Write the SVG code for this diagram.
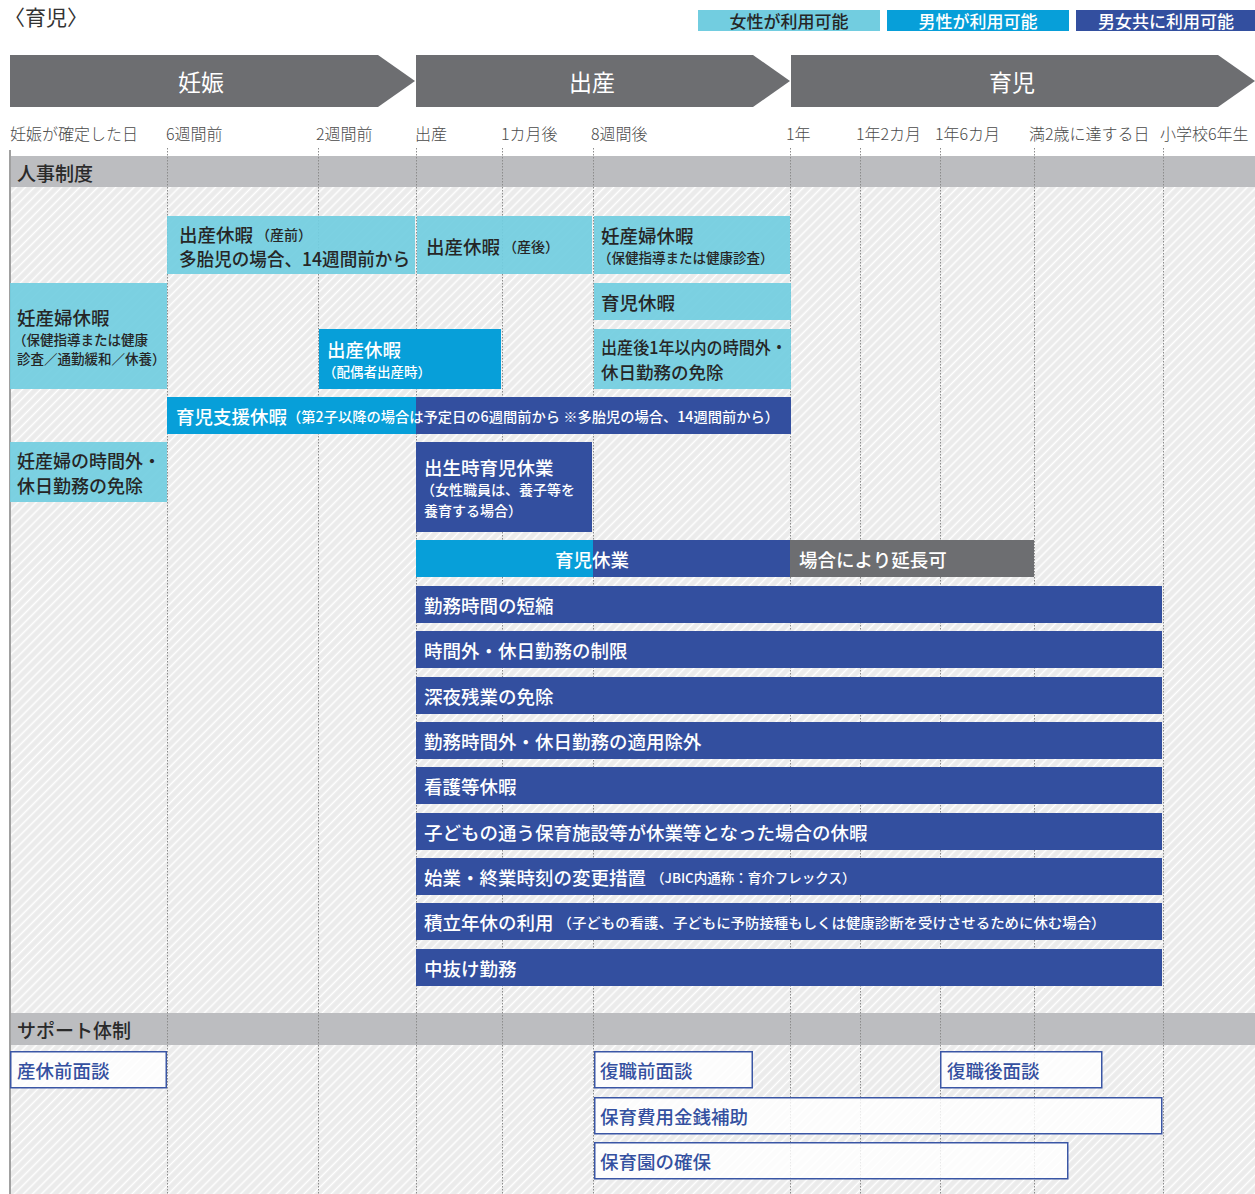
<svg xmlns="http://www.w3.org/2000/svg" width="1255" height="1194" viewBox="0 0 1255 1194">
<defs>
<pattern id="hatch" width="6.4" height="6.4" patternUnits="userSpaceOnUse" patternTransform="rotate(45)">
<rect width="6.4" height="6.4" fill="#ebebeb"/>
<line x1="3.2" y1="0" x2="3.2" y2="6.4" stroke="#ffffff" stroke-width="1.5"/>
</pattern>
<style>
text{font-family:"Noto Sans CJK JP","Noto Sans CJK SC",sans-serif;dominant-baseline:central}
.cy{fill:#72cde0}
.mb{fill:#079fd9}
.db{fill:#334f9f}
.gr{fill:#6d6e71}
.band{fill:#bcbdc0}
.tl{font-size:16px;fill:#4a4a4a;font-weight:300}
.m{font-size:18.5px;font-weight:500}
.s{font-size:14px;font-weight:500}
.dk{fill:#262626}
.wh{fill:#ffffff}
.hd{font-size:19px;font-weight:500;fill:#2a2a2a}
.arw{font-size:23px;fill:#ffffff;font-weight:400}
.lg{font-size:17px;font-weight:500}
.sup{fill:#ffffff;fill-opacity:0.82;stroke:#3a56a5;stroke-width:1.5}
.st{font-size:18.5px;font-weight:500;fill:#3450a0}
.grid line{stroke:#8c8c8c;stroke-width:1;stroke-dasharray:1.5 1.5}
</style>
</defs>

<!-- title -->
<text x="4" y="16" style="font-size:21px;fill:#333;font-weight:400">〈育児〉</text>

<!-- legend -->
<g id="legend">
<rect x="698" y="10" width="182" height="21" class="cy"/>
<text x="789" y="20.5" class="lg dk" text-anchor="middle">女性が利用可能</text>
<rect x="887" y="10" width="182" height="21" class="mb"/>
<text x="978" y="20.5" class="lg wh" text-anchor="middle">男性が利用可能</text>
<rect x="1076" y="10" width="179" height="21" class="db"/>
<text x="1166" y="20.5" class="lg wh" text-anchor="middle">男女共に利用可能</text>
</g>

<!-- phase arrows -->
<g id="phase-ninshin">
<polygon points="10,55 378,55 415,81 378,107 10,107" class="gr"/>
<text x="201" y="81" class="arw" text-anchor="middle">妊娠</text>
</g>
<g id="phase-shussan">
<polygon points="416,55 753,55 790,81 753,107 416,107" class="gr"/>
<text x="592" y="81" class="arw" text-anchor="middle">出産</text>
</g>
<g id="phase-ikuji">
<polygon points="791,55 1218,55 1255,81 1218,107 791,107" class="gr"/>
<text x="1012" y="81" class="arw" text-anchor="middle">育児</text>
</g>

<!-- timeline labels -->
<g id="timeline">
<text x="10" y="133" class="tl">妊娠が確定した日</text>
<text x="166" y="133" class="tl">6週間前</text>
<text x="316" y="133" class="tl">2週間前</text>
<text x="415" y="133" class="tl">出産</text>
<text x="501" y="133" class="tl">1カ月後</text>
<text x="591" y="133" class="tl">8週間後</text>
<text x="786" y="133" class="tl">1年</text>
<text x="856" y="133" class="tl">1年2カ月</text>
<text x="935" y="133" class="tl">1年6カ月</text>
<text x="1029" y="133" class="tl">満2歳に達する日</text>
<text x="1160" y="133" class="tl">小学校6年生</text>
</g>

<!-- backgrounds -->
<rect x="10" y="187" width="1245" height="826" fill="url(#hatch)"/>
<rect x="10" y="1045" width="1245" height="149" fill="url(#hatch)"/>
<g id="band-jinji">
<rect x="10" y="156" width="1245" height="31" class="band"/>
<text x="17" y="172" class="hd">人事制度</text>
</g>
<g id="band-support">
<rect x="10" y="1013" width="1245" height="32" class="band"/>
<text x="17" y="1029" class="hd">サポート体制</text>
</g>

<!-- grid -->
<g id="grid" class="grid">
<line x1="167.5" y1="148" x2="167.5" y2="1194"/>
<line x1="318.5" y1="148" x2="318.5" y2="1194"/>
<line x1="416.5" y1="148" x2="416.5" y2="1194"/>
<line x1="502.5" y1="148" x2="502.5" y2="1194"/>
<line x1="593.5" y1="148" x2="593.5" y2="1194"/>
<line x1="790.5" y1="148" x2="790.5" y2="1194"/>
<line x1="860.5" y1="148" x2="860.5" y2="1194"/>
<line x1="940.5" y1="148" x2="940.5" y2="1194"/>
<line x1="1034.5" y1="148" x2="1034.5" y2="1194"/>
<line x1="1163.5" y1="148" x2="1163.5" y2="1194"/>
</g>
<line x1="10" y1="150" x2="10" y2="1194" stroke="#a0a0a0" stroke-width="2"/>

<!-- 人事制度 nodes -->
<g id="n-sanzen">
<rect x="167" y="216" width="248" height="58" class="cy" fill-opacity="0.93"/>
<text x="179" y="233.5" class="dk"><tspan class="m">出産休暇</tspan><tspan class="s" dx="3">（産前）</tspan></text>
<text x="179" y="257.5" class="m dk" textLength="231" lengthAdjust="spacingAndGlyphs">多胎児の場合、14週間前から</text>
</g>
<g id="n-sango">
<rect x="417" y="216" width="175" height="58" class="cy" fill-opacity="0.93"/>
<text x="426" y="245.5" class="dk"><tspan class="m">出産休暇</tspan><tspan class="s" dx="3">（産後）</tspan></text>
</g>
<g id="n-ninsanpu-r">
<rect x="594" y="216" width="196" height="58" class="cy" fill-opacity="0.93"/>
<text x="601" y="234.5" class="m dk">妊産婦休暇</text>
<text x="598" y="256.5" class="dk" style="font-size:13.5px;font-weight:500">（保健指導または健康診査）</text>
</g>
<g id="n-ninsanpu-l">
<rect x="10" y="283" width="157" height="106" class="cy" fill-opacity="0.93"/>
<text x="17" y="316.5" class="m dk">妊産婦休暇</text>
<text x="13" y="338.5" class="dk" style="font-size:13.5px;font-weight:500">（保健指導または健康</text>
<text x="17" y="357.5" class="dk" style="font-size:13.5px;font-weight:500">診査／通勤緩和／休養）</text>
</g>
<g id="n-ikujikyuka">
<rect x="594" y="283" width="197" height="37" class="cy" fill-opacity="0.93"/>
<text x="601" y="301.5" class="m dk">育児休暇</text>
</g>
<g id="n-haigusha">
<rect x="319" y="329" width="182" height="60" class="mb"/>
<text x="327" y="348.5" class="m wh">出産休暇</text>
<text x="323" y="370.5" class="wh" style="font-size:13.5px;font-weight:500">（配偶者出産時）</text>
</g>
<g id="n-sango1nen">
<rect x="594" y="329" width="197" height="60" class="cy" fill-opacity="0.93"/>
<text x="601" y="346.5" class="dk" style="font-size:17.5px;font-weight:500" textLength="186" lengthAdjust="spacingAndGlyphs">出産後1年以内の時間外・</text>
<text x="601" y="371.5" class="dk" style="font-size:17.5px;font-weight:500">休日勤務の免除</text>
</g>
<g id="n-shienkyuka">
<rect x="167" y="397" width="249" height="37" class="mb"/>
<rect x="416" y="397" width="375" height="37" class="db"/>
<text x="176" y="415.5" class="wh"><tspan class="m">育児支援休暇</tspan><tspan class="s" textLength="492" lengthAdjust="spacingAndGlyphs">（第2子以降の場合は予定日の6週間前から ※多胎児の場合、14週間前から）</tspan></text>
</g>
<g id="n-ninsanpu-jikangai">
<rect x="10" y="442" width="157" height="60" class="cy" fill-opacity="0.93"/>
<text x="17" y="459.5" class="dk" style="font-size:18px;font-weight:500">妊産婦の時間外・</text>
<text x="17" y="484.5" class="dk" style="font-size:18px;font-weight:500">休日勤務の免除</text>
</g>
<g id="n-shusseiji">
<rect x="416" y="442" width="176" height="90" class="db"/>
<text x="424" y="466.5" class="m wh">出生時育児休業</text>
<text x="421" y="488.5" class="wh" style="font-size:14px;font-weight:500">（女性職員は、養子等を</text>
<text x="424" y="509.5" class="wh" style="font-size:14px;font-weight:500">養育する場合）</text>
</g>
<g id="n-ikujikyugyo">
<rect x="416" y="540" width="177" height="37" class="mb"/>
<rect x="593" y="540" width="197" height="37" class="db"/>
<rect x="790" y="540" width="244" height="37" class="gr"/>
<text x="555" y="558.5" class="m wh">育児休業</text>
<text x="799" y="558.5" class="m wh">場合により延長可</text>
</g>
<g id="n-tanshuku">
<rect x="416" y="586" width="746" height="37" class="db"/>
<text x="424" y="604.5" class="m wh">勤務時間の短縮</text>
</g>
<g id="n-seigen">
<rect x="416" y="631" width="746" height="37" class="db"/>
<text x="424" y="649.5" class="m wh">時間外・休日勤務の制限</text>
</g>
<g id="n-shinya">
<rect x="416" y="677" width="746" height="37" class="db"/>
<text x="424" y="695.5" class="m wh">深夜残業の免除</text>
</g>
<g id="n-tekiyojogai">
<rect x="416" y="722" width="746" height="37" class="db"/>
<text x="424" y="740.5" class="m wh">勤務時間外・休日勤務の適用除外</text>
</g>
<g id="n-kango">
<rect x="416" y="767" width="746" height="37" class="db"/>
<text x="424" y="786" class="m wh">看護等休暇</text>
</g>
<g id="n-hoiku-kyugyo">
<rect x="416" y="813" width="746" height="37" class="db"/>
<text x="424" y="831.5" class="m wh">子どもの通う保育施設等が休業等となった場合の休暇</text>
</g>
<g id="n-flex">
<rect x="416" y="858" width="746" height="37" class="db"/>
<text x="424" y="876.5" class="wh"><tspan class="m">始業・終業時刻の変更措置</tspan><tspan class="s" dx="5" style="font-size:13.5px">（JBIC内通称：育介フレックス）</tspan></text>
</g>
<g id="n-tsumitate">
<rect x="416" y="903" width="746" height="37" class="db"/>
<text x="424" y="922" class="wh"><tspan class="m">積立年休の利用</tspan><tspan class="s" dx="4" textLength="548" lengthAdjust="spacingAndGlyphs">（子どもの看護、子どもに予防接種もしくは健康診断を受けさせるために休む場合）</tspan></text>
</g>
<g id="n-nakanuke">
<rect x="416" y="949" width="746" height="37" class="db"/>
<text x="424" y="967.5" class="m wh">中抜け勤務</text>
</g>

<!-- サポート体制 nodes -->
<g id="s-sankyumae">
<rect x="10.75" y="1051.75" width="155.5" height="36" class="sup"/>
<text x="17" y="1069.5" class="st">産休前面談</text>
</g>
<g id="s-fukushokumae">
<rect x="594.75" y="1051.75" width="157.5" height="36" class="sup"/>
<text x="600" y="1069.5" class="st">復職前面談</text>
</g>
<g id="s-fukushokugo">
<rect x="940.75" y="1051.75" width="161" height="36" class="sup"/>
<text x="947" y="1069.5" class="st">復職後面談</text>
</g>
<g id="s-hiyohojo">
<rect x="594.75" y="1097.75" width="567" height="36" class="sup"/>
<text x="600" y="1115.5" class="st">保育費用金銭補助</text>
</g>
<g id="s-hoikuen">
<rect x="594.75" y="1142.75" width="473" height="36" class="sup"/>
<text x="600" y="1160.5" class="st">保育園の確保</text>
</g>
</svg>
